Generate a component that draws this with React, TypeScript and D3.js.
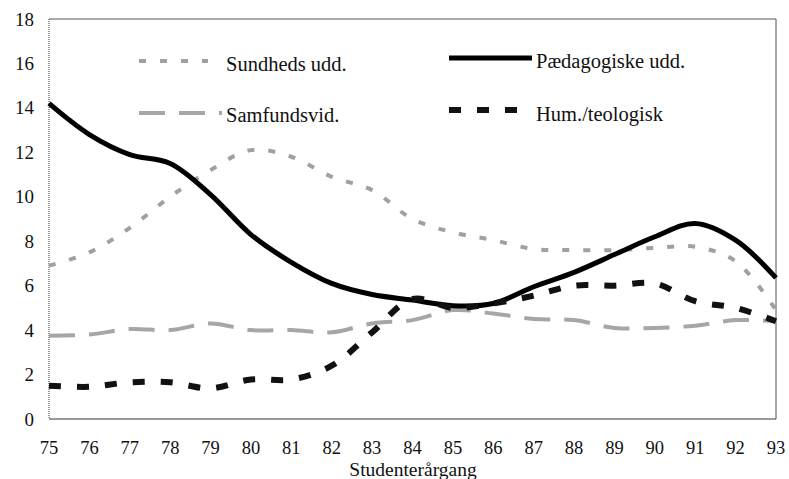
import React from "react";
import * as d3 from "d3";

const years = [75, 76, 77, 78, 79, 80, 81, 82, 83, 84, 85, 86, 87, 88, 89, 90, 91, 92, 93];
const sundheds = [6.9, 7.5, 8.6, 10.0, 11.2, 12.1, 11.8, 10.9, 10.3, 9.0, 8.4, 8.05, 7.65, 7.6, 7.6, 7.7, 7.75, 7.1, 4.9];
const samfund = [3.75, 3.8, 4.05, 4.0, 4.3, 4.0, 4.0, 3.9, 4.3, 4.45, 4.9, 4.75, 4.5, 4.45, 4.1, 4.1, 4.2, 4.45, 4.4];
const paedagog = [14.2, 12.8, 11.9, 11.5, 10.1, 8.3, 7.05, 6.1, 5.6, 5.35, 5.1, 5.2, 5.95, 6.6, 7.4, 8.2, 8.8, 8.05, 6.35];
const humteo = [1.5, 1.45, 1.65, 1.65, 1.38, 1.78, 1.78, 2.4, 3.9, 5.4, 5.0, 5.2, 5.55, 6.0, 6.0, 6.1, 5.3, 5.0, 4.4];
const yTicks = [0, 2, 4, 6, 8, 10, 12, 14, 16, 18];
const xTitle = "Studenterårgang";

const seriesDefs = [
  { name: "Sundheds udd.", values: sundheds, color: "#a0a0a0", width: 4, dash: "7,14" },
  { name: "Samfundsvid.", values: samfund, color: "#a6a6a6", width: 4, dash: "26,14" },
  { name: "Pædagogiske udd.", values: paedagog, color: "#000", width: 5, dash: "" },
  { name: "Hum./teologisk", values: humteo, color: "#111", width: 6, dash: "12,16" },
];

export default function App() {
  const W = 789, H = 479;
  const left = 49, right = 776, top = 19, bottom = 419;
  const x = d3.scaleLinear().domain([75, 93]).range([left, right]);
  const y = d3.scaleLinear().domain([0, 18]).range([bottom, top]);
  const line = d3
    .line<number>()
    .x((_, i) => x(years[i]))
    .y((d) => y(d))
    .curve(d3.curveCatmullRom.alpha(0.5));
  const fontStyle = { fontFamily: "Liberation Serif, Tinos, Times New Roman, Times, DejaVu Serif, serif" };

  const legend = [
    { idx: 0, x1: 139, x2: 208, ly: 61, tx: 226, ty: 71 },
    { idx: 1, x1: 139, x2: 222, ly: 113, tx: 226, ty: 122 },
    { idx: 2, x1: 449, x2: 532, ly: 58, tx: 536, ty: 68 },
    { idx: 3, x1: 449, x2: 522, ly: 110, tx: 536, ty: 121 },
  ];

  return (
    <svg width={W} height={H} style={{ position: "absolute", left: 0, top: 0, background: "#fff" }}>
      <rect x={0} y={0} width={W} height={H} fill="#fff" />
      <line x1={left} x2={right} y1={top} y2={top} stroke="#555" strokeWidth={1} />
      <line x1={right} x2={right} y1={top} y2={bottom} stroke="#555" strokeWidth={1} />
      <line x1={left} x2={left} y1={top} y2={bottom} stroke="#333" strokeWidth={1} strokeDasharray="1,1" />
      <line x1={left} x2={right} y1={bottom} y2={bottom} stroke="#333" strokeWidth={1} />
      {yTicks.map((t) => (
        <text key={t} x={34} y={y(t) + 6.5} textAnchor="end" style={fontStyle} fontSize={19} fill="#111">
          {t}
        </text>
      ))}
      {years.map((yr) => (
        <text key={yr} x={x(yr)} y={454} textAnchor="middle" style={fontStyle} fontSize={18.5} fill="#111">
          {yr}
        </text>
      ))}
      <text x={413} y={476} textAnchor="middle" style={fontStyle} fontSize={19.5} fill="#111">
        {xTitle}
      </text>
      {seriesDefs.map((s) => (
        <path
          key={s.name}
          d={line(s.values) || ""}
          fill="none"
          stroke={s.color}
          strokeWidth={s.width}
          strokeDasharray={s.dash || undefined}
          strokeLinejoin="round"
        />
      ))}
      {legend.map((l) => {
        const s = seriesDefs[l.idx];
        return (
          <g key={s.name}>
            <line
              x1={l.x1}
              x2={l.x2}
              y1={l.ly}
              y2={l.ly}
              stroke={s.color}
              strokeWidth={s.width}
              strokeDasharray={s.dash || undefined}
            />
            <text x={l.tx} y={l.ty} style={fontStyle} fontSize={20.5} fill="#111">
              {s.name}
            </text>
          </g>
        );
      })}
    </svg>
  );
}
